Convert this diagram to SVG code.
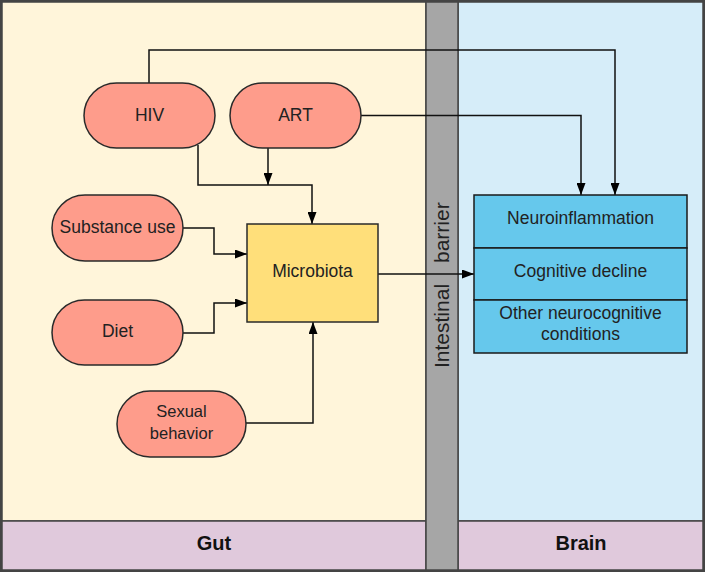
<svg xmlns="http://www.w3.org/2000/svg" width="705" height="572" viewBox="0 0 705 572">
<defs>
<marker id="arr" viewBox="0 0 12 9" refX="12" refY="4.5" markerWidth="12" markerHeight="9" markerUnits="userSpaceOnUse" orient="auto">
<path d="M0,0 L12,4.5 L0,9 z" fill="#000"/>
</marker>
<style>
.pill{fill:#fe9c8b;stroke:#2a2a2a;stroke-width:1.5}
.lbl{font-family:"Liberation Sans",Arial,sans-serif;font-size:17.5px;fill:#222;text-anchor:middle}
.band{font-family:"Liberation Sans",Arial,sans-serif;font-size:20px;font-weight:bold;fill:#111;text-anchor:middle}
.conn{fill:none;stroke:#111;stroke-width:1.5}
.brainbox{fill:#66c8ec;stroke:#1a1a1a;stroke-width:1.5}
</style>
</defs>
<g id="background">
<rect x="2" y="2" width="424" height="519" fill="#fff5da" stroke="#444" stroke-width="1.5"/>
<rect x="458" y="2" width="245" height="519" fill="#d6edf9" stroke="#444" stroke-width="1.5"/>
<rect x="2" y="521" width="424" height="49" fill="#e0c9dc" stroke="#444" stroke-width="1.5"/>
<rect x="458" y="521" width="245" height="49" fill="#e0c9dc" stroke="#444" stroke-width="1.5"/>
<rect x="426" y="2" width="32" height="568" fill="#a6a6a6" stroke="#444" stroke-width="1.5"/>
<rect x="1" y="1" width="703" height="570" fill="none" stroke="#444" stroke-width="2"/>
<text class="band" x="214" y="550">Gut</text>
<text class="band" x="581" y="550">Brain</text>
</g>
<g id="barrier-label" font-family="Liberation Sans, Arial, sans-serif" font-size="21" fill="#222">
<text transform="translate(449,368) rotate(-90)">Intestinal</text>
<text transform="translate(449,263) rotate(-90)">barrier</text>
</g>
<g id="connectors" class="conn">
<path class="conn" d="M149,83 V50 H615 V195" marker-end="url(#arr)"/>
<path class="conn" d="M361,115.5 H581 V195" marker-end="url(#arr)"/>
<path class="conn" d="M198,145 V185 H312 V224" marker-end="url(#arr)"/>
<path class="conn" d="M268,148 V185" marker-end="url(#arr)"/>
<path class="conn" d="M183,228 H214 V254 H247" marker-end="url(#arr)"/>
<path class="conn" d="M183,333 H214 V303 H247" marker-end="url(#arr)"/>
<path class="conn" d="M246,423 H313 V322" marker-end="url(#arr)"/>
<path class="conn" d="M378,274 H474" marker-end="url(#arr)"/>
</g>
<g id="hiv">
<rect class="pill" x="84" y="83" width="131" height="65" rx="32.5"/>
<text class="lbl" x="149.5" y="121">HIV</text>
</g>
<g id="art">
<rect class="pill" x="230" y="83" width="131" height="65" rx="32.5"/>
<text class="lbl" x="295.5" y="121">ART</text>
</g>
<g id="substance">
<rect class="pill" x="52" y="195" width="131" height="66" rx="33"/>
<text class="lbl" x="117.5" y="233">Substance use</text>
</g>
<g id="diet">
<rect class="pill" x="52" y="300" width="131" height="65" rx="32.5"/>
<text class="lbl" x="117.5" y="337">Diet</text>
</g>
<g id="sexual">
<rect class="pill" x="117" y="391" width="129" height="66" rx="33"/>
<text class="lbl" x="181.5" y="417" style="font-size:16.5px">Sexual</text>
<text class="lbl" x="181.5" y="439" style="font-size:16.5px">behavior</text>
</g>
<g id="microbiota">
<rect x="247" y="224" width="131" height="98" fill="#ffdf7a" stroke="#2a2a2a" stroke-width="1.5"/>
<text class="lbl" x="312.5" y="277">Microbiota</text>
</g>
<g id="brain-outcomes">
<rect class="brainbox" x="474" y="195" width="213" height="53"/>
<rect class="brainbox" x="474" y="248" width="213" height="52"/>
<rect class="brainbox" x="474" y="300" width="213" height="53"/>
<text class="lbl" x="580.5" y="224">Neuroinflammation</text>
<text class="lbl" x="580.5" y="277">Cognitive decline</text>
<text class="lbl" x="580.5" y="319">Other neurocognitive</text>
<text class="lbl" x="580.5" y="340">conditions</text>
</g>
</svg>
